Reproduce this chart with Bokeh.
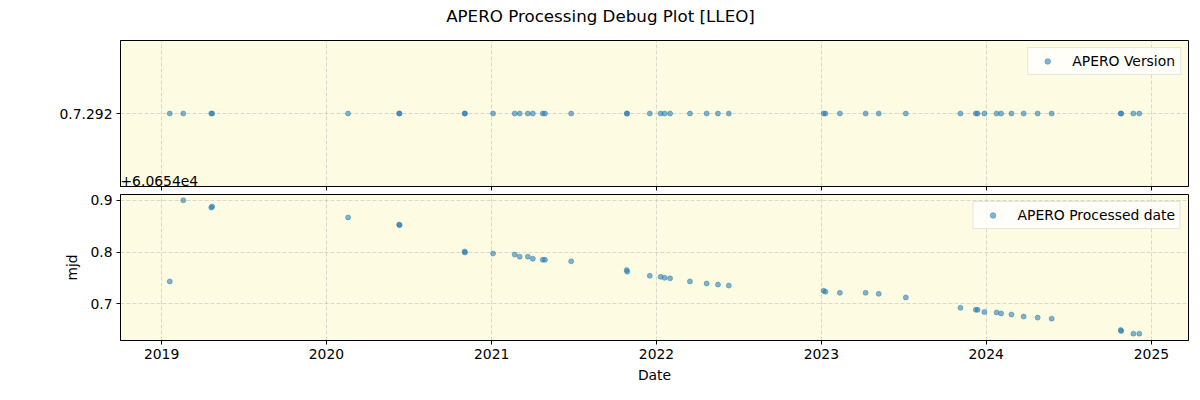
import pandas as pd
from bokeh.plotting import figure
from bokeh.layouts import column
from bokeh.models import (FixedTicker, FactorRange, Range1d, DatetimeAxis,
                          CustomJSTickFormatter, ColumnDataSource)
from bokeh.embed import file_html
from bokeh.resources import INLINE

# ---------------- data ----------------
title_text = "APERO Processing Debug Plot [LLEO]"
offset_text = "+6.0654e4"
version_label = "APERO Version"
processed_label = "APERO Processed date"
x_label = "Date"
y_label = "mjd"

obs_dates = [
    "2019-01-19", "2019-02-18", "2019-04-21", "2019-04-23", "2020-02-18",
    "2020-06-10", "2020-06-11", "2020-11-02", "2020-11-03", "2021-01-04",
    "2021-02-21", "2021-03-04", "2021-03-22", "2021-04-02", "2021-04-24",
    "2021-04-29", "2021-06-26", "2021-10-27", "2021-10-28", "2021-12-17",
    "2022-01-10", "2022-01-19", "2022-01-31", "2022-03-16", "2022-04-22",
    "2022-05-17", "2022-06-10", "2023-01-06", "2023-01-10", "2023-02-11",
    "2023-04-09", "2023-05-08", "2023-07-07", "2023-11-05", "2023-12-09",
    "2023-12-13", "2023-12-28", "2024-01-24", "2024-02-03", "2024-02-26",
    "2024-03-24", "2024-04-24", "2024-05-25", "2024-10-25", "2024-10-26",
    "2024-11-22", "2024-12-05",
]
processed_mjd = [
    60654.743, 60654.900, 60654.886, 60654.888, 60654.867,
    60654.853, 60654.852, 60654.801, 60654.799, 60654.797,
    60654.795, 60654.791, 60654.791, 60654.787, 60654.785,
    60654.785, 60654.782, 60654.765, 60654.762, 60654.754,
    60654.752, 60654.750, 60654.749, 60654.743, 60654.739,
    60654.737, 60654.735, 60654.725, 60654.723, 60654.721,
    60654.721, 60654.719, 60654.712, 60654.692, 60654.688,
    60654.688, 60654.684, 60654.683, 60654.681, 60654.679,
    60654.675, 60654.673, 60654.671, 60654.649, 60654.647,
    60654.642, 60654.642,
]
version_categories = ["0.7.292"]
versions = ["0.7.292"] * len(obs_dates)

year_ticks = [2019, 2020, 2021, 2022, 2023, 2024, 2025]
mjd_offset = 60654
mjd_ticks = [60654.7, 60654.8, 60654.9]
x_limits = ("2018-10-02", "2025-03-24")
mjd_limits = (60654.6287, 60654.9113)

# ---------------- styling ----------------
FONT = "DejaVu Sans"
FS = "13.9px"
BG = "#fdfbe1"
BLUE = "#1f77b4"

src = ColumnDataSource(dict(date=pd.to_datetime(obs_dates),
                            mjd=processed_mjd, version=versions))

x_start = pd.Timestamp(x_limits[0])
x_end = pd.Timestamp(x_limits[1])
xr = Range1d(start=x_start, end=x_end)
year_ms = [pd.Timestamp(f"{y}-01-01").value // 10**6 for y in year_ticks]
year_fmt = CustomJSTickFormatter(code="return String(new Date(tick).getUTCFullYear());")
span_ms = (x_end - x_start).value / 1e6
FRAME_W = 1068


def style_axis(ax):
    ax.axis_line_color = "black"
    ax.major_tick_line_color = "black"
    ax.major_tick_out = 4
    ax.major_tick_in = 0
    ax.minor_tick_out = 0
    ax.minor_tick_in = 0
    ax.major_label_text_font = FONT
    ax.major_label_text_font_size = FS
    ax.major_label_text_color = "black"
    ax.major_label_standoff = 4
    ax.axis_label_text_font = FONT
    ax.axis_label_text_font_size = FS
    ax.axis_label_text_font_style = "normal"
    ax.axis_label_text_color = "black"


def text_axis(text, px_from_left, standoff, size):
    """A tick-less axis carrying a single free text (title / offset text)."""
    x = x_start.value / 1e6 + px_from_left / FRAME_W * span_ms
    ax = DatetimeAxis(ticker=FixedTicker(ticks=[x]),
                      formatter=CustomJSTickFormatter(code=f"return '{text}';"))
    style_axis(ax)
    ax.axis_line_color = None
    ax.major_tick_line_color = None
    ax.major_tick_out = 0
    ax.major_label_standoff = standoff
    ax.major_label_text_font_size = size
    return ax


def style(p):
    p.background_fill_color = BG
    p.border_fill_color = "white"
    p.outline_line_color = "black"
    p.outline_line_alpha = 1.0
    p.outline_line_width = 1
    for ax in p.axis:
        style_axis(ax)
    p.xaxis.ticker = FixedTicker(ticks=year_ms)
    p.xaxis.formatter = year_fmt
    for g in p.grid:
        g.grid_line_color = "#b0b0b0"
        g.grid_line_alpha = 0.6
        g.grid_line_dash = "4 2"
        g.grid_line_width = 0.8
    p.xgrid.ticker = FixedTicker(ticks=year_ms)


def style_legend(p):
    lg = p.legend[0]
    lg.location = "top_right"
    lg.margin = 7
    lg.padding = 5
    lg.spacing = 0
    lg.glyph_width = 28
    lg.glyph_height = 14
    lg.label_height = 14
    lg.label_standoff = 11
    lg.label_text_font = FONT
    lg.label_text_font_size = FS
    lg.label_text_color = "black"
    lg.background_fill_color = "white"
    lg.background_fill_alpha = 0.8
    lg.border_line_color = "#cccccc"
    lg.border_line_width = 1


# ---------------- top panel ----------------
top = figure(width=1200, height=192, x_range=xr,
             y_range=FactorRange(factors=version_categories, range_padding=0),
             x_axis_type="datetime", output_backend="svg", toolbar_location=None,
             min_border_left=120, min_border_right=12, min_border_top=40,
             min_border_bottom=6)
top.scatter("date", "version", source=src, size=5, color=BLUE, alpha=0.55,
            line_width=0.8, legend_label=version_label)
style(top)
top.xaxis.formatter = CustomJSTickFormatter(code="return '';")
top.xaxis.major_label_standoff = 0
style_legend(top)

# figure title, centred on the whole figure (x = 600 px)
top.add_layout(text_axis(title_text, 600 - 120, 15, "16.7px"), "above")
# offset text of the lower panel's y axis
top.add_layout(text_axis(offset_text, 38.8, -15, FS), "below")

# ---------------- bottom panel ----------------
bot = figure(width=1200, height=208, x_range=xr,
             y_range=Range1d(*mjd_limits),
             x_axis_type="datetime", output_backend="svg", toolbar_location=None,
             min_border_left=120, min_border_right=12, min_border_top=2,
             min_border_bottom=60)
bot.scatter("date", "mjd", source=src, size=5, color=BLUE, alpha=0.55,
            line_width=0.8, legend_label=processed_label)
style(bot)
bot.yaxis.ticker = FixedTicker(ticks=mjd_ticks)
bot.yaxis.formatter = CustomJSTickFormatter(
    code=f"return (tick - {mjd_offset}).toFixed(1);")
bot.ygrid.ticker = FixedTicker(ticks=mjd_ticks)
bot.xaxis.axis_label = x_label
bot.yaxis.axis_label = y_label
bot.xaxis.axis_label_standoff = 5
bot.yaxis.axis_label_standoff = 7
style_legend(bot)

layout = column(top, bot, spacing=0)
open("out.html", "w").write(file_html(layout, INLINE))
